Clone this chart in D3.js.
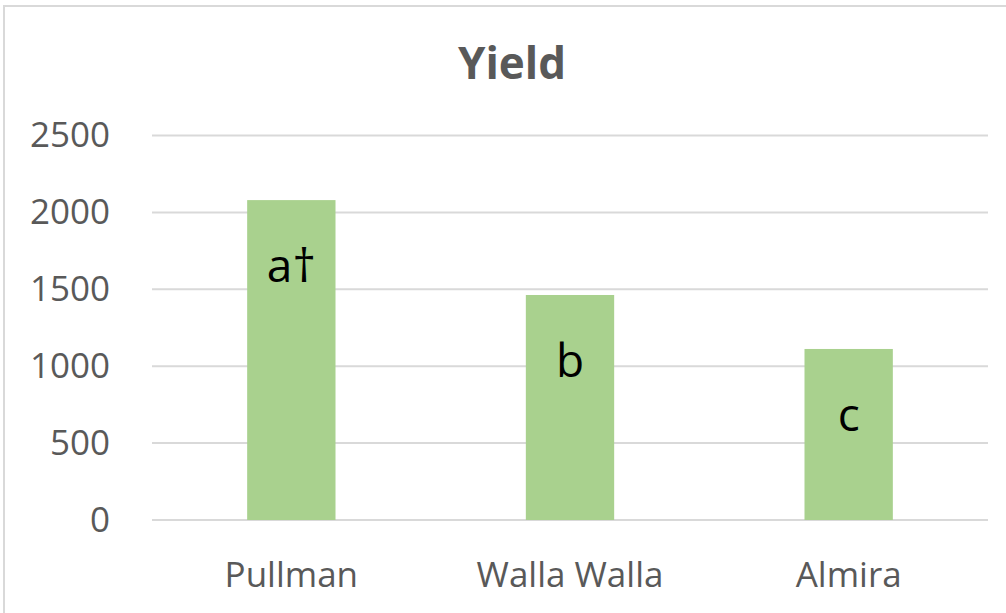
<!DOCTYPE html>
<html>
<head>
<meta charset="utf-8">
<script src="https://cdn.jsdelivr.net/npm/d3@7"></script>
<style>
  body { margin: 0; background: #fff; }
  text { font-family: "Open Sans", "Noto Sans", sans-serif; }
</style>
</head>
<body>
<div id="chart"></div>
<script>
// data
var sites = ["Pullman", "Walla Walla", "Almira"];
var yieldValues = [2080, 1463, 1112];
var letters = ["a\u2020", "b", "c"];
var yTicks = [0, 500, 1000, 1500, 2000, 2500];

var W = 1006, H = 613;
var margin = {top: 135.5, right: 18, bottom: 93, left: 152},
    width = W - margin.left - margin.right,
    height = H - margin.top - margin.bottom;

var svg = d3.select("#chart")
  .append("svg")
    .attr("width", W)
    .attr("height", H);

// chart area border (runs off the right/bottom edge)
svg.append("rect")
  .attr("x", 4).attr("y", 6)
  .attr("width", W + 20).attr("height", H + 20)
  .attr("fill", "none")
  .attr("stroke", "#d9d9d9")
  .attr("stroke-width", 2);

svg.append("text")
  .attr("x", 512).attr("y", 79)
  .attr("text-anchor", "middle")
  .attr("font-size", 44)
  .attr("font-weight", "bold")
  .attr("fill", "#595959")
  .text("Yield");

var g = svg.append("g")
  .attr("transform", "translate(" + margin.left + "," + margin.top + ")");

var x = d3.scaleBand()
  .domain(sites)
  .range([0, width])
  .paddingInner(0.683)
  .paddingOuter(0.3415);

var y = d3.scaleLinear()
  .domain([0, 2500])
  .range([height, 0]);

// gridlines
g.append("g")
  .selectAll("line")
  .data(yTicks)
  .enter()
  .append("line")
    .attr("x1", 0)
    .attr("x2", width)
    .attr("y1", function(d) { return y(d); })
    .attr("y2", function(d) { return y(d); })
    .attr("stroke", "#d9d9d9")
    .attr("stroke-width", 2);

// y axis labels
var yAxis = g.append("g")
  .call(d3.axisLeft(y).tickValues(yTicks).tickFormat(d3.format("d")).tickSize(0).tickPadding(42));
yAxis.select(".domain").remove();
yAxis.selectAll("text")
  .attr("font-family", "Open Sans, sans-serif")
  .attr("font-size", 35)
  .attr("fill", "#595959");

// x axis labels
var xAxis = g.append("g")
  .attr("transform", "translate(0," + height + ")")
  .call(d3.axisBottom(x).tickSize(0).tickPadding(42));
xAxis.select(".domain").remove();
xAxis.selectAll("text")
  .attr("font-family", "Open Sans, sans-serif")
  .attr("font-size", 35)
  .attr("fill", "#595959");

// bars
g.selectAll(".bar")
  .data(yieldValues)
  .enter()
  .append("rect")
    .attr("class", "bar")
    .attr("x", function(d, i) { return x(sites[i]); })
    .attr("y", function(d) { return y(d); })
    .attr("width", x.bandwidth())
    .attr("height", function(d) { return height - y(d); })
    .attr("fill", "#a9d18e");

// significance letters
g.selectAll(".letter")
  .data(yieldValues)
  .enter()
  .append("text")
    .attr("class", "letter")
    .attr("x", function(d, i) { return x(sites[i]) + x.bandwidth() / 2; })
    .attr("y", function(d) { return y(d) + 82; })
    .attr("text-anchor", "middle")
    .attr("font-size", 46)
    .attr("fill", "#000")
    .text(function(d, i) { return letters[i]; });
</script>
</body>
</html>
